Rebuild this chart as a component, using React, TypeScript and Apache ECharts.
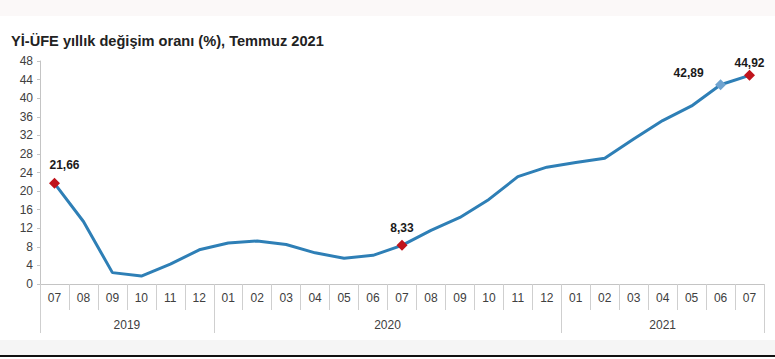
import React, { useEffect, useRef } from "react";
import * as echarts from "echarts";

const months = ["07","08","09","10","11","12","01","02","03","04","05","06","07","08","09","10","11","12","01","02","03","04","05","06","07"];
const values = [21.66,13.45,2.45,1.70,4.26,7.36,8.84,9.26,8.50,6.71,5.53,6.17,8.33,11.53,14.33,18.20,23.11,25.15,26.16,27.09,31.20,35.17,38.33,42.89,44.92];
const years = ["2019", "2020", "2021"];
const yearSpans = [6, 12, 7];
const yTicks = [0, 4, 8, 12, 16, 20, 24, 28, 32, 36, 40, 44, 48];
const labeledIdx = [0, 12, 23, 24];
const title = "Yİ-ÜFE yıllık değişim oranı (%), Temmuz 2021";

export default function App() {
  const ref = useRef<HTMLDivElement>(null);
  useEffect(() => {
    document.body.style.margin = "0";
    const chart = echarts.init(ref.current!, null, { renderer: "svg" });
    const font = "'Liberation Sans', Arial, sans-serif";
    const n = months.length;
    const halfCats: string[] = [];
    for (let i = 0; i <= 2 * n; i++) halfCats.push("");
    const boundaries: number[] = [0];
    const labelPos: Record<number, string> = {};
    let acc = 0;
    yearSpans.forEach((s, k) => {
      labelPos[acc * 2 + s] = years[k];
      acc += s;
      boundaries.push(acc * 2);
    });
    Object.keys(labelPos).forEach((k) => (halfCats[+k] = labelPos[+k]));

    const distances: Record<number, number> = { 0: 7, 12: 6, 23: 0.5, 24: 1 };
    const offsets: Record<number, number[]> = { 0: [10, 0], 12: [0, 0], 23: [-32, 0], 24: [0, 0] };

    const data = values.map((v, i) => {
      const item: any = { value: v, symbolSize: 0 };
      if (labeledIdx.includes(i)) {
        const isBlue = i === 23;
        item.symbol = "diamond";
        item.symbolSize = 11;
        item.itemStyle = { color: isBlue ? "#6fa3cf" : "#c0141c" };
        item.label = {
          show: true,
          position: "top",
          distance: distances[i],
          offset: offsets[i],
          formatter: (p: any) => p.value.toFixed(2).replace(".", ","),
          fontFamily: font,
          fontWeight: "bold",
          fontSize: 12,
          color: "#1a1a1a",
        };
      }
      return item;
    });

    chart.setOption({
      animation: false,
      backgroundColor: "#ffffff",
      title: {
        text: title,
        left: 6,
        top: 28,
        textStyle: { fontFamily: font, fontWeight: "bold", fontSize: 14.6, color: "#222" },
      },
      graphic: [
        { type: "rect", shape: { x: 0, y: 0, width: 775, height: 16 }, style: { fill: "#fbf8f8" }, silent: true },
        { type: "rect", shape: { x: 0, y: 340, width: 775, height: 15 }, style: { fill: "#f5f5f5" }, silent: true },
        { type: "rect", shape: { x: 0, y: 355, width: 775, height: 2 }, style: { fill: "#111" }, silent: true },
      ],
      grid: { left: 40, right: 11, top: 61, bottom: 75, containLabel: false },
      xAxis: [
        {
          type: "category",
          data: months,
          boundaryGap: true,
          axisLine: { show: true, lineStyle: { color: "#c4c4c4", width: 1 } },
          axisTick: { show: true, interval: 0, length: 26, lineStyle: { color: "#cfcfcf" } },
          axisLabel: { interval: 0, margin: 8, fontFamily: font, fontSize: 12, color: "#404040" },
          splitLine: { show: false },
        },
        {
          type: "category",
          data: halfCats,
          boundaryGap: false,
          position: "bottom",
          axisLine: { show: false },
          axisTick: {
            show: true,
            length: 49,
            interval: (i: number) => boundaries.includes(i),
            lineStyle: { color: "#cfcfcf" },
          },
          axisLabel: {
            interval: (i: number) => halfCats[i] !== "",
            margin: 35,
            fontFamily: font,
            fontSize: 12,
            color: "#404040",
          },
          splitLine: { show: false },
        },
      ],
      yAxis: {
        type: "value",
        min: yTicks[0],
        max: yTicks[yTicks.length - 1],
        interval: 4,
        axisLine: { show: true, lineStyle: { color: "#c4c4c4" } },
        axisTick: { show: true, length: 3, lineStyle: { color: "#c4c4c4" } },
        axisLabel: { margin: 7, fontFamily: font, fontSize: 12, color: "#404040" },
        splitLine: { show: false },
      },
      series: [
        {
          type: "line",
          xAxisIndex: 0,
          data,
          symbol: "none",
          showSymbol: true,
          lineStyle: { color: "#2e7fb6", width: 3 },
          itemStyle: { color: "#2e7fb6" },
          z: 3,
        },
      ],
    });
    return () => chart.dispose();
  }, []);
  return (
    <div style={{ position: "absolute", left: 0, top: 0, width: 775, height: 359 }}>
      <div ref={ref} style={{ width: 775, height: 359 }} />
    </div>
  );
}
